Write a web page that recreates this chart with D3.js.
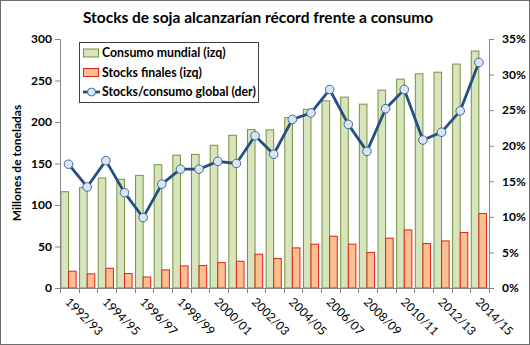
<!DOCTYPE html>
<html><head><meta charset="utf-8">
<script src="https://cdn.jsdelivr.net/npm/d3@7"></script>
<style>
html,body{margin:0;padding:0;background:#fff;}
svg{display:block;font-family:Lato,"Open Sans",sans-serif;}
</style></head>
<body>
<svg id="c" width="530" height="345"></svg>
<script>
const seasons = ["1992/93","1993/94","1994/95","1995/96","1996/97","1997/98","1998/99","1999/00","2000/01","2001/02","2002/03","2003/04","2004/05","2005/06","2006/07","2007/08","2008/09","2009/10","2010/11","2011/12","2012/13","2013/14","2014/15"];
const consumo = [116,121,132.5,131,135.7,148.6,160,161,172,184,191,190.5,205.3,215.4,225.5,230,221.5,238.4,251.7,258,260,269.8,285.5];
const stocks = [20.2,17,23.8,17.4,13.3,21.8,26.6,27,30.6,32.2,40.7,35.5,48.3,52.8,62.4,52.8,42.7,60,70,53.6,56.7,66.9,89.8];
const ratio = [17.4,14.2,17.9,13.4,9.9,14.6,16.7,16.7,17.8,17.5,21.4,18.8,23.7,24.6,27.9,23.0,19.2,25.2,27.9,20.8,21.9,24.9,31.7];
const leftTicks = [0,50,100,150,200,250,300];
const rightTicks = [0,5,10,15,20,25,30,35];
const shownLabels = ["1992/93","1994/95","1996/97","1998/99","2000/01","2002/03","2004/05","2006/07","2008/09","2010/11","2012/13","2014/15"];
const title = "Stocks de soja alcanzarían récord frente a consumo";
const legendItems = ["Consumo mundial (izq)","Stocks finales (izq)","Stocks/consumo global (der)"];

const svg = d3.select("#c");
const L = 60, R = 489, T = 39, B = 288;
const axisCol = "#868686";

svg.append("rect").attr("x",0.5).attr("y",0.5).attr("width",529).attr("height",344)
  .attr("fill","#fff").attr("stroke","#6d6d6d").attr("stroke-width",1);

const x = d3.scaleBand().domain(seasons).range([L,R]).padding(0);
const yL = d3.scaleLinear().domain([0,300]).range([B,T]);
const yR = d3.scaleLinear().domain([0,35]).range([B,T]);

// title
svg.append("text").attr("x",258).attr("y",23).attr("text-anchor","middle")
  .attr("font-size",15.5).attr("font-weight","bold").attr("fill","#000").text(title);

// bars
const bw = 7.6;
svg.append("g").selectAll("rect").data(consumo).join("rect")
  .attr("x",(d,i)=>x(seasons[i])+x.bandwidth()/2-bw-0.8)
  .attr("y",d=>yL(d)).attr("width",bw).attr("height",d=>yL(0)-yL(d))
  .attr("fill","#d7e4bd").attr("stroke","#77933c").attr("stroke-width",1);
svg.append("g").selectAll("rect").data(stocks).join("rect")
  .attr("x",(d,i)=>x(seasons[i])+x.bandwidth()/2-0.8)
  .attr("y",d=>yL(d)).attr("width",bw).attr("height",d=>yL(0)-yL(d))
  .attr("fill","#fac090").attr("stroke","#e3201c").attr("stroke-width",1);

// axes
const gl = svg.append("g").attr("transform",`translate(${L},0)`)
  .call(d3.axisLeft(yL).tickValues(leftTicks).tickSize(5).tickPadding(3));
const gr = svg.append("g").attr("transform",`translate(${R},0)`)
  .call(d3.axisRight(yR).tickValues(rightTicks).tickSize(5).tickPadding(8).tickFormat(d=>d+"%"));
[gl,gr].forEach(g=>{
  g.selectAll("path,line").attr("stroke",axisCol);
  g.selectAll("text").attr("font-family","Lato,sans-serif").attr("font-size",12).attr("font-weight","bold").attr("fill","#000");
});

// bottom axis line + boundary ticks
svg.append("line").attr("x1",L).attr("x2",R).attr("y1",B+0.5).attr("y2",B+0.5).attr("stroke",axisCol);
svg.append("g").selectAll("line").data(seasons.concat(["end"])).join("line")
  .attr("x1",(d,i)=>Math.round(L+i*x.bandwidth())+0.5).attr("x2",(d,i)=>Math.round(L+i*x.bandwidth())+0.5)
  .attr("y1",B).attr("y2",B+5).attr("stroke",axisCol);
const gb = svg.append("g").attr("transform",`translate(0,${B})`)
  .call(d3.axisBottom(x).tickValues(shownLabels).tickSize(0).tickPadding(0));
gb.select(".domain").remove();
gb.selectAll("text").attr("font-family","Lato,sans-serif").attr("font-size",12).attr("fill","#000")
  .attr("text-anchor","start").attr("dy",null).attr("y",0)
  .attr("transform","translate(2,8) rotate(45)").attr("dominant-baseline","hanging");

// line
const line = d3.line().x((d,i)=>x(seasons[i])+x.bandwidth()/2-0.8).y(d=>yR(d));
svg.append("path").datum(ratio).attr("d",line).attr("fill","none")
  .attr("stroke","#254f82").attr("stroke-width",2.8).attr("stroke-linejoin","round");
svg.append("g").selectAll("circle").data(ratio).join("circle")
  .attr("cx",(d,i)=>x(seasons[i])+x.bandwidth()/2-0.8).attr("cy",d=>yR(d)).attr("r",4.3)
  .attr("fill","#dbe5f1").attr("stroke","#3f6aa0").attr("stroke-width",1);

// y title
svg.append("text").attr("transform","translate(21,163) rotate(-90)").attr("text-anchor","middle")
  .attr("font-size",12).attr("font-weight","bold").attr("fill","#000").text("Millones de toneladas");

// legend
const lg = svg.append("g");
lg.append("rect").attr("x",79.5).attr("y",42.5).attr("width",179).attr("height",60)
  .attr("fill","#fff").attr("stroke","#404040").attr("stroke-width",1);
const rowsY = [53,72.5,92];
lg.append("rect").attr("x",83.5).attr("y",rowsY[0]-4).attr("width",15).attr("height",8)
  .attr("fill","#d7e4bd").attr("stroke","#77933c");
lg.append("rect").attr("x",83.5).attr("y",rowsY[1]-4).attr("width",15).attr("height",8)
  .attr("fill","#fac090").attr("stroke","#e3201c");
lg.append("line").attr("x1",83).attr("x2",100).attr("y1",rowsY[2]).attr("y2",rowsY[2])
  .attr("stroke","#254f82").attr("stroke-width",2.8);
lg.append("circle").attr("cx",91.5).attr("cy",rowsY[2]).attr("r",4).attr("fill","#dbe5f1").attr("stroke","#3f6aa0");
lg.selectAll("text.l").data(legendItems).join("text").attr("class","l")
  .attr("x",102).attr("y",(d,i)=>rowsY[i]).attr("dy","0.35em")
  .attr("font-size",12.3).attr("font-weight","bold").attr("fill","#000").text(d=>d);
</script>
</body></html>
